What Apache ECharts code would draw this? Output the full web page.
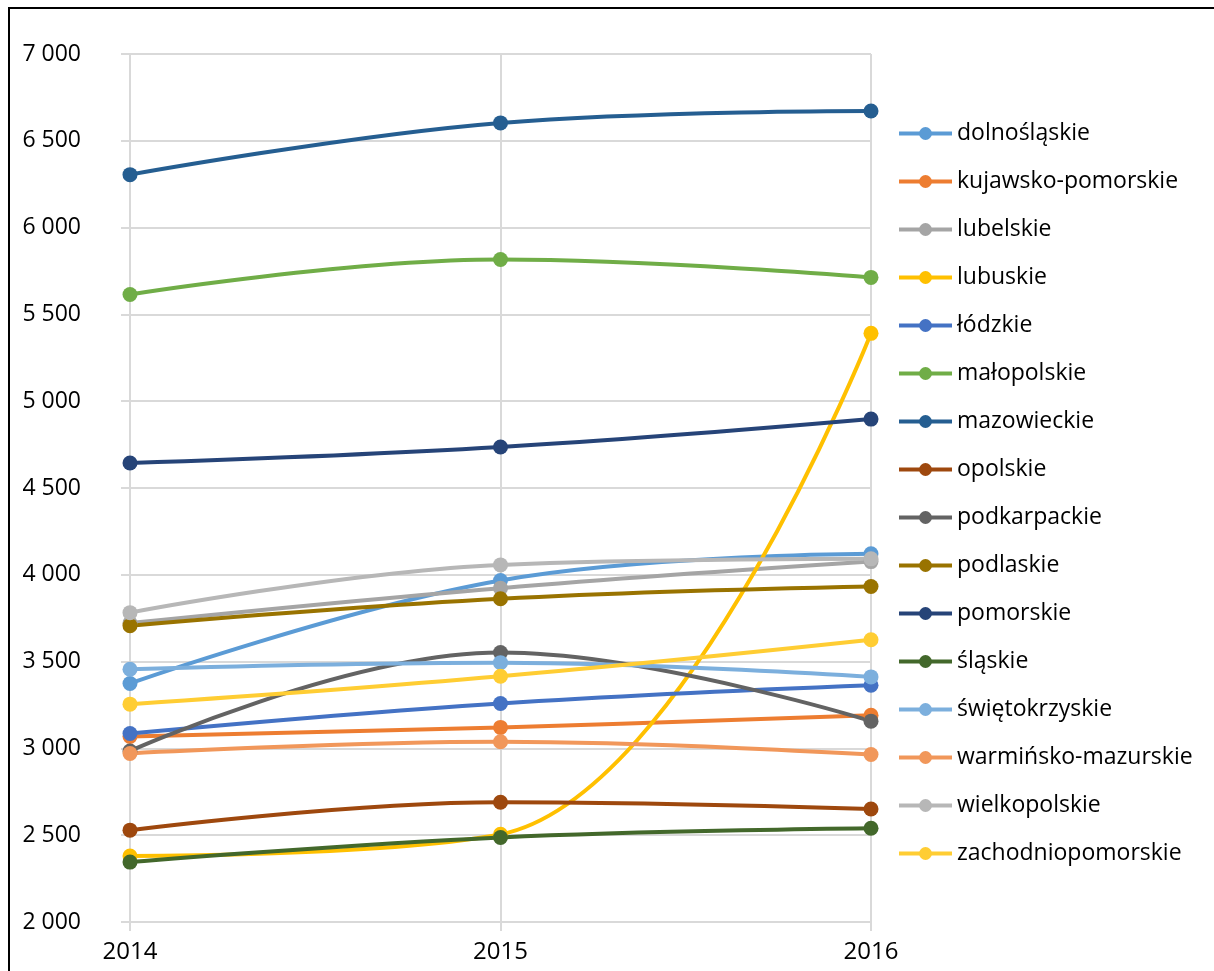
<!DOCTYPE html>
<html>
<head>
<meta charset="utf-8">
<script src="https://cdn.jsdelivr.net/npm/echarts@6/dist/echarts.min.js"></script>
<style>
  html, body { margin: 0; padding: 0; background: #fff; }
  #chart { width: 1214px; height: 971px; }
</style>
</head>
<body>
<div id="chart"></div>
<script>
const years = ['2014', '2015', '2016'];

const regions = [
  'dolnośląskie', 'kujawsko-pomorskie', 'lubelskie', 'lubuskie', 'łódzkie',
  'małopolskie', 'mazowieckie', 'opolskie', 'podkarpackie', 'podlaskie',
  'pomorskie', 'śląskie', 'świętokrzyskie', 'warmińsko-mazurskie',
  'wielkopolskie', 'zachodniopomorskie'
];

const colors = [
  '#5B9BD5', '#ED7D31', '#A5A5A5', '#FFC000', '#4472C4',
  '#70AD47', '#255E91', '#9E480E', '#636363', '#997300',
  '#264478', '#43682B', '#7CAFDD', '#F1975A', '#B7B7B7', '#FFCD33'
];

// values per region, 2014..2016
const dolnoslaskie = [3374, 3967, 4121];
const kujawskoPomorskie = [3069, 3121, 3191];
const lubelskie = [3722, 3923, 4076];
const lubuskie = [2380, 2505, 5391];
const lodzkie = [3086, 3259, 3364];
const malopolskie = [5615, 5816, 5713];
const mazowieckie = [6305, 6603, 6672];
const opolskie = [2529, 2690, 2651];
const podkarpackie = [2985, 3552, 3157];
const podlaskie = [3707, 3862, 3933];
const pomorskie = [4644, 4736, 4897];
const slaskie = [2345, 2487, 2540];
const swietokrzyskie = [3456, 3494, 3412];
const warminskoMazurskie = [2971, 3038, 2965];
const wielkopolskie = [3782, 4057, 4092];
const zachodniopomorskie = [3255, 3416, 3626];

const values = [
  dolnoslaskie, kujawskoPomorskie, lubelskie, lubuskie, lodzkie,
  malopolskie, mazowieckie, opolskie, podkarpackie, podlaskie,
  pomorskie, slaskie, swietokrzyskie, warminskoMazurskie,
  wielkopolskie, zachodniopomorskie
];

const fontFamily = '"Open Sans", "Noto Sans", sans-serif';
const chart = echarts.init(document.getElementById('chart'));

chart.setOption({
  animation: false,
  textStyle: { fontFamily: fontFamily },
  // outer frame: only left and top edges fall inside the picture
  graphic: [{
    type: 'polyline',
    shape: { points: [[9, 1200], [9, 8], [1400, 8]] },
    style: { fill: 'none', stroke: '#000', lineWidth: 2 },
    silent: true
  }],
  grid: { left: 130, right: 343, top: 54, bottom: 49 },
  legend: {
    orient: 'vertical',
    left: 897,
    top: 121,
    padding: 0,
    itemWidth: 53,
    itemHeight: 16,
    itemGap: 23,
    lineStyle: { width: 4 },
    textStyle: { fontSize: 23, lineHeight: 25, color: '#000', fontFamily: fontFamily },
    data: regions
  },
  xAxis: {
    type: 'category',
    data: years,
    boundaryGap: false,
    axisLine: { lineStyle: { color: '#d9d9d9', width: 2 } },
    axisTick: { show: true, length: 9, lineStyle: { color: '#d9d9d9', width: 2 } },
    axisLabel: { color: '#000', fontSize: 24, fontFamily: fontFamily, margin: 18 },
    splitLine: { show: true, lineStyle: { color: '#d9d9d9', width: 2 } }
  },
  yAxis: {
    type: 'value',
    min: 2000,
    max: 7000,
    interval: 500,
    axisLine: { show: false },
    axisTick: { show: true, length: 9, lineStyle: { color: '#d9d9d9', width: 2 } },
    axisLabel: {
      color: '#000', fontSize: 23, fontFamily: fontFamily, margin: 49,
      formatter: v => String(v).replace(/\B(?=(\d{3})+(?!\d))/g, ' ')
    },
    splitLine: { show: true, lineStyle: { color: '#d9d9d9', width: 2 } }
  },
  series: regions.map((name, i) => ({
    name: name,
    type: 'line',
    smooth: 0.4,
    data: values[i],
    symbol: 'circle',
    symbolSize: 15,
    color: colors[i],
    lineStyle: { width: 4, color: colors[i] },
    itemStyle: { color: colors[i] }
  }))
});
</script>
</body>
</html>
